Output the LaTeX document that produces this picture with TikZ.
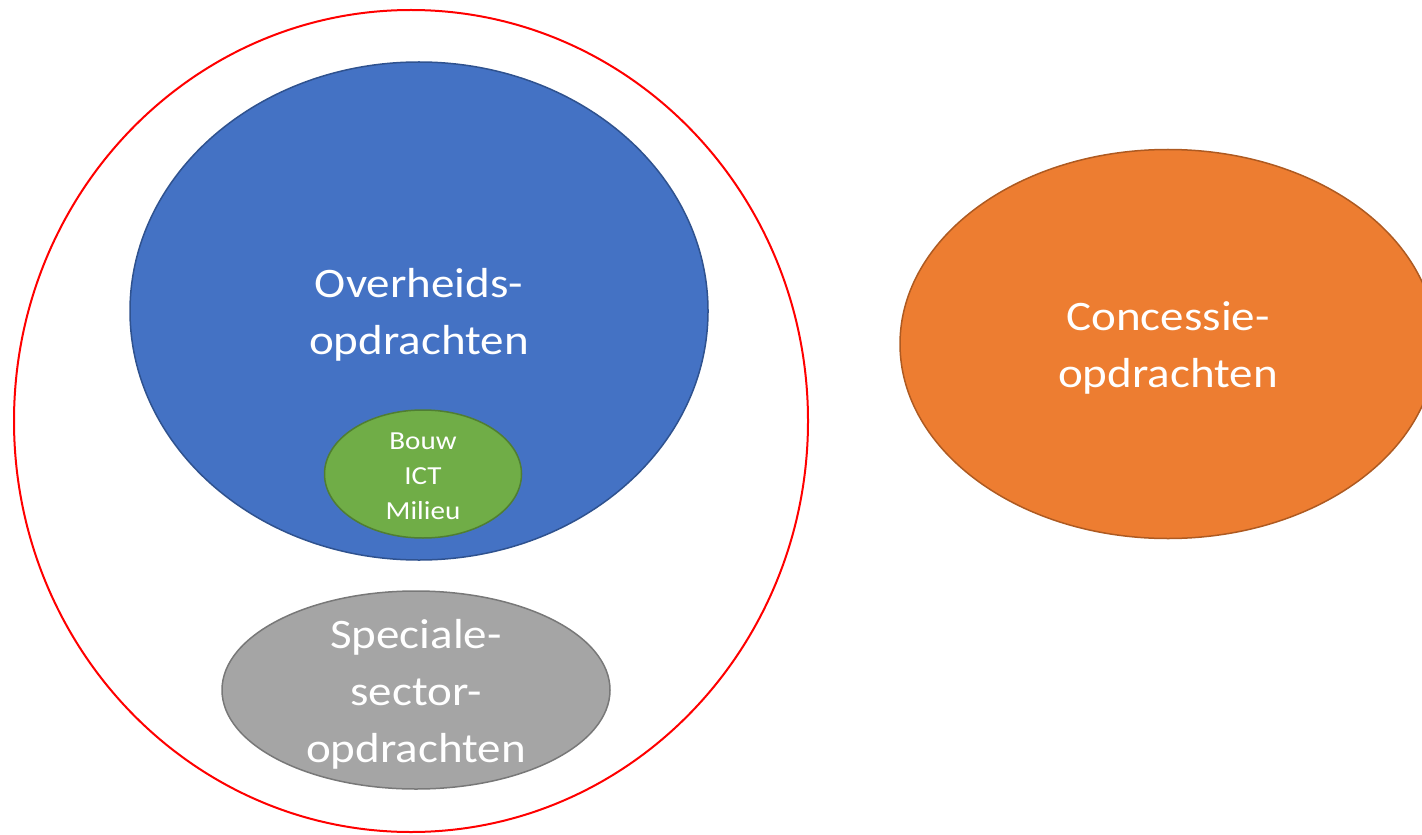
\documentclass[tikz,border=0pt]{standalone}
\usepackage{fontspec}
\setmainfont{Carlito}[FakeStretch=1.12]
\usetikzlibrary{shapes.geometric}
\definecolor{blauw}{HTML}{4472C4}
\definecolor{blauwrand}{HTML}{2F528F}
\definecolor{groen}{HTML}{70AD47}
\definecolor{groenrand}{HTML}{507E32}
\definecolor{grijs}{HTML}{A5A5A5}
\definecolor{grijsrand}{HTML}{787878}
\definecolor{oranje}{HTML}{ED7D31}
\definecolor{oranjerand}{HTML}{AE5A21}
\begin{document}
\begin{tikzpicture}[x=0.5pt,y=-0.5pt,
  vorm/.style={ellipse,inner sep=0pt,line width=0.75pt},
  tekst/.style={inner sep=0pt,text=white,align=center},
  groot/.style={tekst,font=\fontsize{21}{28.5}\selectfont}]
  \useasboundingbox (0,0) rectangle (1422,834);
  \clip (0,0) rectangle (1422,834);
  \node[vorm,draw=red,line width=1pt,minimum width=397pt,minimum height=411pt] (totaal) at (411,421) {};
  \node[vorm,fill=blauw,draw=blauwrand,minimum width=289pt,minimum height=249pt] (overheid) at (419,311) {};
  \node[vorm,fill=groen,draw=groenrand,minimum width=98.5pt,minimum height=64pt] (sector) at (423,474) {};
  \node[vorm,fill=grijs,draw=grijsrand,minimum width=194pt,minimum height=99pt] (speciaal) at (416,690) {};
  \node[vorm,fill=oranje,draw=oranjerand,minimum width=268pt,minimum height=194.5pt] (concessie) at (1168,344) {};
  % teksten
  \node[groot] (overheidtekst) at ([yshift=-2pt]overheid.center) {Overheids-\\opdrachten};
  \node[tekst,font=\fontsize{13}{17.5}\selectfont] (sectortekst) at ([yshift=-1pt]sector.center) {Bouw\\ICT\\Milieu};
  \node[groot] (speciaaltekst) at ([yshift=-2pt]speciaal.center) {Speciale-\\sector-\\opdrachten};
  \node[groot] (concessietekst) at ([yshift=-2pt]concessie.center) {Concessie-\\opdrachten};
\end{tikzpicture}
\end{document}
